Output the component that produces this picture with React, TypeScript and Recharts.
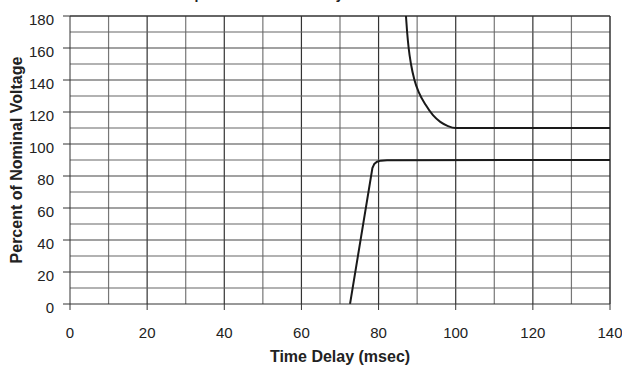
import React from "react";
import { LineChart, Line, XAxis, YAxis, ReferenceLine } from "recharts";

const xTicks = [0, 20, 40, 60, 80, 100, 120, 140];
const yTicks = [0, 20, 40, 60, 80, 100, 120, 140, 160, 180];
const gridX = [10, 20, 30, 40, 50, 60, 70, 80, 90, 100, 110, 120, 130];
const gridY = [10, 20, 30, 40, 50, 60, 70, 80, 90, 100, 110, 120, 130, 140, 150, 160, 170];

const upperCurve = [
  { x: 87.1, y: 180 },
  { x: 87.4, y: 170 },
  { x: 87.8, y: 160 },
  { x: 88.4, y: 150 },
  { x: 89.3, y: 140 },
  { x: 90.5, y: 132 },
  { x: 92.2, y: 124.5 },
  { x: 94.1, y: 118 },
  { x: 96.0, y: 113.8 },
  { x: 98.0, y: 111.2 },
  { x: 100, y: 110 },
  { x: 140, y: 110 },
];

const lowerCurve = [
  { x: 72.6, y: 0 },
  { x: 78.4, y: 85 },
  { x: 78.9, y: 87.6 },
  { x: 79.6, y: 88.9 },
  { x: 80.6, y: 89.6 },
  { x: 82.2, y: 89.9 },
  { x: 140, y: 90 },
];

const FONT = "'Liberation Sans', Arial, sans-serif";

const XTick = (props: any) => {
  const { x, y, payload } = props;
  return (
    <text x={x} y={y + 11} textAnchor="middle" fontFamily={FONT} fontSize={15} fill="#222">
      {payload.value}
    </text>
  );
};

const YTick = (props: any) => {
  const { x, y, payload } = props;
  return (
    <text x={x} y={y + 9.4} textAnchor="end" fontFamily={FONT} fontSize={15} fill="#222">
      {payload.value}
    </text>
  );
};

export default function App() {
  return (
    <div style={{ position: "absolute", left: 0, top: 0, width: 622, height: 365, background: "#fff" }}>
      <svg width={622} height={20} style={{ position: "absolute", left: 0, top: 0 }}>
        <text x={182} y={-1} textAnchor="start" fontFamily={FONT} fontWeight="bold" fontSize={14} fill="#222">
          Input Tolerance to Delay
        </text>
      </svg>
      <LineChart
        width={622}
        height={365}
        margin={{ top: 16, right: 12, bottom: 0, left: 0 }}
        style={{ fontFamily: FONT }}
      >
        <XAxis
          type="number"
          dataKey="x"
          domain={[0, 140]}
          ticks={xTicks}
          allowDataOverflow
          stroke="#333"
          tickSize={6}
          tick={XTick}
          tickMargin={17}
          label={{
            value: "Time Delay (msec)",
            position: "insideBottom",
            offset: 3,
            style: { fontWeight: "bold", fontSize: 16, fill: "#222" },
          }}
          height={61}
        />
        <YAxis
          type="number"
          dataKey="y"
          domain={[0, 180]}
          ticks={yTicks}
          allowDataOverflow
          stroke="#333"
          tickSize={7}
          tick={YTick}
          tickMargin={9}
          width={70}
          label={{
            value: "Percent of Nominal Voltage",
            angle: -90,
            position: "insideLeft",
            offset: 16,
            style: { fontWeight: "bold", fontSize: 16, fill: "#222", textAnchor: "middle" },
          }}
        />
        {gridX.map((v) => (
          <ReferenceLine key={"gx" + v} x={v} stroke={v % 20 === 0 ? "#333" : "#777"} strokeWidth={1.2} />
        ))}
        {gridY.map((v) => (
          <ReferenceLine key={"gy" + v} y={v} stroke={v % 20 === 0 ? "#444" : "#666"} strokeWidth={1.2} />
        ))}
        <ReferenceLine x={140} stroke="#333" strokeWidth={1.5} />
        <ReferenceLine y={180} stroke="#333" strokeWidth={1.5} />
        <Line
          data={upperCurve}
          dataKey="y"
          type="monotone"
          stroke="#1a1a1a"
          strokeWidth={2}
          dot={false}
          isAnimationActive={false}
        />
        <Line
          data={lowerCurve}
          dataKey="y"
          type="linear"
          stroke="#1a1a1a"
          strokeWidth={2}
          dot={false}
          isAnimationActive={false}
        />
      </LineChart>
    </div>
  );
}
